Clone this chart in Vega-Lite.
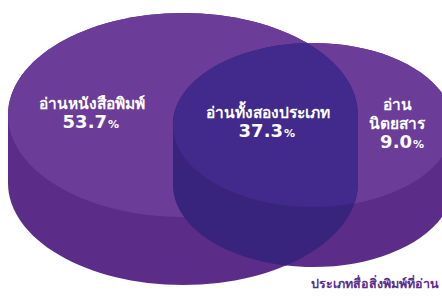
{
  "$schema": "https://vega.github.io/schema/vega-lite/v6.json",
  "width": 442,
  "height": 278,
  "autosize": {"type": "none"},
  "padding": {"left": 0, "top": 0, "right": 0, "bottom": 20},
  "background": "white",
  "config": {"view": {"stroke": null}},
  "title": {"text": "ประเภทสื่อสิ่งพิมพ์ที่อ่าน", "orient": "bottom", "anchor": "end", "align": "right", "frame": "group", "offset": -7, "fontSize": 12.5, "fontWeight": "bold", "color": "#5b2d8c", "dx": -3},
  "data": {
    "values": [
      {"region": "หนังสือพิมพ์", "line1": "", "line2": "อ่านหนังสือพิมพ์", "value": 53.7},
      {"region": "ทั้งสองประเภท", "line1": "", "line2": "อ่านทั้งสองประเภท", "value": 37.3},
      {"region": "นิตยสาร", "line1": "อ่าน", "line2": "นิตยสาร", "value": 9.0}
    ]
  },
  "encoding": {
    "x": {"field": "value", "type": "quantitative", "axis": null, "scale": {"domain": [53.7, 37.3, 9.0], "range": [92, 268, 397], "nice": false, "zero": false}},
    "y": {"field": "value", "type": "quantitative", "axis": null, "scale": {"domain": [53.7, 37.3, 9.0], "range": [113, 122, 133], "nice": false, "zero": false}}
  },
  "layer": [
    {
      "transform": [{"filter": "datum.region !== 'ทั้งสองประเภท'"}],
      "mark": {"type": "point", "filled": true, "opacity": 1, "size": 4, "fill": "#5b2d88", "strokeWidth": 0},
      "encoding": {
        "shape": {"field": "region", "type": "nominal", "legend": null, "scale": {"domain": ["หนังสือพิมพ์", "นิตยสาร"], "range": ["M -84 2 A 175 102 0 0 1 266 2 L 266 70 A 175 102 0 0 1 -84 70 Z", "M -224 -8 A 140 82 0 0 1 56 -8 L 56 52 A 140 82 0 0 1 -224 52 Z"]}},
        "order": {"field": "value", "type": "quantitative", "sort": "ascending"}
      }
    },
    {
      "transform": [{"filter": "datum.region !== 'ทั้งสองประเภท'"}],
      "mark": {"type": "point", "filled": true, "opacity": 1, "size": 4, "fill": "#6b3d98", "strokeWidth": 0},
      "encoding": {
        "shape": {"field": "region", "type": "nominal", "legend": null, "scale": {"domain": ["หนังสือพิมพ์", "นิตยสาร"], "range": ["M -84 2 A 175 102 0 0 1 266 2 A 175 102 0 0 1 -84 2 Z", "M -224 -8 A 140 82 0 0 1 56 -8 A 140 82 0 0 1 -224 -8 Z"]}},
        "order": {"field": "value", "type": "quantitative", "sort": "ascending"}
      }
    },
    {
      "transform": [{"filter": "datum.region === 'ทั้งสองประเภท'"}],
      "mark": {"type": "point", "filled": true, "opacity": 1, "size": 4, "fill": "#38247c", "strokeWidth": 0, "shape": "M 39 -78.95 A 140 82 0 0 0 -95 3 L -95 63 A 140 82 0 0 0 18 143.5 A 175 102 0 0 0 90 61 L 90 -7 A 175 102 0 0 0 39 -78.95 Z"}
    },
    {
      "transform": [{"filter": "datum.region === 'ทั้งสองประเภท'"}],
      "mark": {"type": "point", "filled": true, "opacity": 1, "size": 4, "fill": "#412a8b", "strokeWidth": 0, "shape": "M 39 -78.95 A 140 82 0 0 0 -95 3 A 140 82 0 0 0 86.5 81.3 A 175 102 0 0 0 90 61 L 90 -7 A 175 102 0 0 0 39 -78.95 Z"}
    },
    {
      "mark": {"type": "text", "align": "center", "baseline": "bottom", "dy": -20, "fontSize": 15.5, "fontWeight": "bold", "fill": "white"},
      "encoding": {"text": {"field": "line1"}}
    },
    {
      "mark": {"type": "text", "align": "center", "baseline": "bottom", "dy": -1, "fontSize": 15.5, "fontWeight": "bold", "fill": "white"},
      "encoding": {"text": {"field": "line2"}}
    },
    {
      "mark": {"type": "text", "align": "right", "baseline": "alphabetic", "dx": 15, "dy": 15, "font": "DejaVu Sans", "fontSize": 18, "fontWeight": "bold", "fill": "white"},
      "encoding": {"text": {"field": "value", "type": "quantitative", "format": ".1f"}}
    },
    {
      "mark": {"type": "text", "align": "left", "baseline": "alphabetic", "dx": 16, "dy": 15, "font": "DejaVu Sans", "fontSize": 11, "fontWeight": "bold", "fill": "white"},
      "encoding": {"text": {"value": "%"}}
    }
  ],
  "resolve": {"scale": {"shape": "independent"}}
}
